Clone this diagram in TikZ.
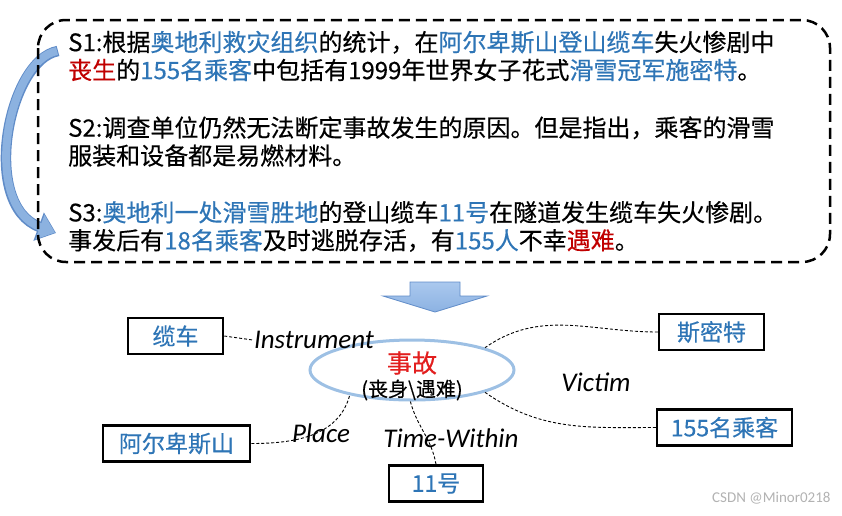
\documentclass[tikz,border=0pt]{standalone}
\usepackage{fontspec}
\setmainfont{Carlito}
\newfontfamily\cjk[FakeBold=0.4]{Noto Sans CJK SC}
\usepackage{xcolor}
\usetikzlibrary{shapes.geometric, arrows.meta, positioning}

\definecolor{kwblue}{RGB}{46,117,182}
\definecolor{kwred}{RGB}{192,0,0}
\definecolor{evred}{RGB}{226,30,30}
\definecolor{ellblue}{RGB}{157,192,228}
\definecolor{arrblue}{RGB}{140,178,224}
\definecolor{arrline}{RGB}{96,140,200}
\definecolor{arrtop}{RGB}{170,200,238}
\definecolor{arrbot}{RGB}{140,178,226}

\newcommand{\kb}[1]{\textcolor{kwblue}{#1}}
\newcommand{\kr}[1]{\textcolor{kwred}{#1}}

\tikzstyle{sentence} = [anchor=west, align=left, inner sep=0pt, font=\cjk\fontsize{24}{28}\selectfont]
\tikzstyle{docbox} = [line width=2.5pt, dash pattern=on 11pt off 6pt, rounded corners=28pt]
\tikzstyle{arg} = [rectangle, draw=black, line width=2.5pt, fill=white, minimum height=36pt, inner xsep=6pt, text=kwblue, font=\cjk\fontsize{23}{26}\selectfont]
\tikzstyle{event} = [ellipse, draw=ellblue, line width=3pt, minimum width=204pt, minimum height=60pt, inner sep=0pt]
\tikzstyle{role} = [font=\itshape\fontsize{27}{30}\selectfont, inner sep=1pt]
\tikzstyle{rel} = [line width=0.9pt, dash pattern=on 3pt off 2pt]
\tikzstyle{loopback} = [line width=8pt, draw=arrblue, -{Triangle[length=16pt, width=25pt]}]
\tikzstyle{loopedge} = [line width=10.5pt, draw=arrline, -{Triangle[length=18.5pt, width=29pt]}]

\begin{document}
\begin{tikzpicture}[x=1pt, y=-1pt]
\useasboundingbox (0,0) rectangle (842,515);

% curved arrow S1 -> S3
\draw [loopedge] (58,51) .. controls (8,60) and (-20,205) .. (56,233);
\draw [loopback] (57,51) .. controls (8,60) and (-20,205) .. (55,232.6);

% sentences
\draw [docbox] (38,20) rectangle (830,262);
\node (s1) [sentence] at (68,56) {S1:根据\kb{奥地利救灾组织}的统计，在\kb{阿尔卑斯山登山缆车}失火惨剧中\\\kr{丧生}的\kb{155名乘客}中包括有1999年世界女子花式\kb{滑雪冠军施密特}。};
\node (s2) [sentence] at (68,141.5) {S2:调查单位仍然无法断定事故发生的原因。但是指出，乘客的滑雪\\服装和设备都是易燃材料。};
\node (s3) [sentence] at (68,226.5) {S3:\kb{奥地利一处滑雪胜地}的登山缆车\kb{11号}在隧道发生缆车失火惨剧。\\事发后有\kb{18名乘客}及时逃脱存活，有\kb{155人}不幸\kr{遇难}。};

% down arrow
\draw [draw=arrline, line width=0.8pt, top color=arrtop, bottom color=arrbot] (410,282) -- (460,282) -- (460,296) -- (487,296) -- (435,312) -- (383,296) -- (410,296) -- cycle;

% event
\node (acc) [event] at (412,370) {};
\node (evt) [font=\cjk\fontsize{25}{27}\selectfont, text=evred, inner sep=0pt] at (412,363) {事故};
\node (evtsub) [font=\cjk\fontsize{20}{22}\selectfont, inner sep=0pt] at (412,390) {(丧身\textbackslash 遇难)};

% arguments
\node (ca) [arg, minimum width=95pt] at (175.5,336) {缆车};
\node (mt) [arg, minimum width=105pt] at (711.5,332) {斯密特};
\node (pc) [arg, minimum width=135pt] at (724.5,427.5) {155名乘客};
\node (pl) [arg, minimum width=147pt] at (176.5,443.5) {阿尔卑斯山};
\node (hao) [arg, minimum width=94pt] at (436,483.5) {11号};

% roles
\node (instr) [role] at (314,340) {Instrument};
\node (victim) [role] at (596,382) {Victim};
\node (place) [role] at (321,433) {Place};
\node (time) [role] at (451,438) {Time-Within};

% Arrows
\draw [rel] (ca.east) -- (instr.west);
\draw [rel] (mt.west) to[out=180, in=35] (acc.17);
\draw [rel] (pc.west) to[out=180, in=-35] (acc.-17);
\draw [rel] (pl.east) to[out=0, in=-105] (acc.-158);
\draw [rel] (hao.north) to[out=100, in=-75] (acc.-93);

\node (wm) [anchor=east, text=gray!60, font=\fontsize{15}{17}\selectfont] at (834,498) {CSDN @Minor0218};

\end{tikzpicture}
\end{document}
